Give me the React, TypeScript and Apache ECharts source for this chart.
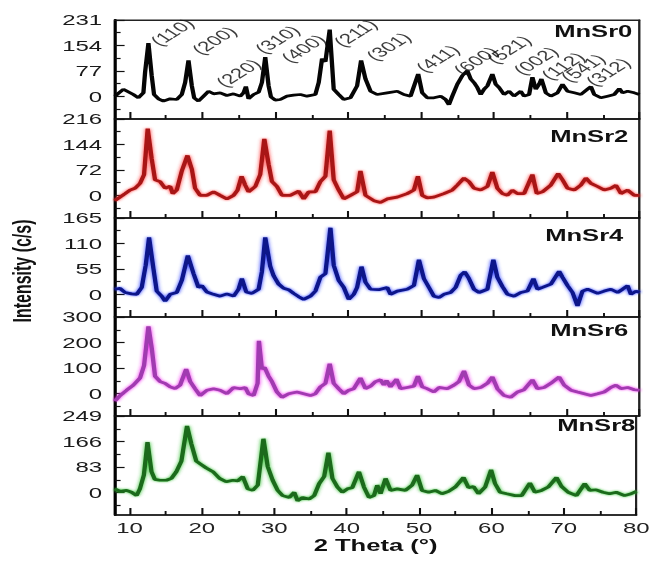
import React, { useEffect, useRef } from "react";
import * as echarts from "echarts";

// ---- data -------------------------------------------------------------
const samples = ["MnSr0", "MnSr2", "MnSr4", "MnSr6", "MnSr8"];
const yMax = [231, 216, 165, 300, 249];
const yMin = [-68, -64, -49, -88, -73];
const xTicks = [10, 20, 30, 40, 50, 60, 70, 80];
const xMinorTicks = [15, 25, 35, 45, 55, 65, 75];

// 2θ (deg), intensity (c/s)
const mnSr0: [number, number][] = [
  [8.0, 1], [9.15, 22], [10.52, 6], [11.21, -4], [11.9, 11], [12.13, 73], [12.59, 161], [13.04, 63],
  [13.36, 6], [13.96, -7], [14.65, -14], [15.57, -7], [16.48, -9], [17.17, 6], [17.63, 42], [18.09, 109],
  [18.55, 32], [18.87, -4], [19.46, -14], [20.15, 1], [20.84, 16], [21.53, 8], [22.44, 11], [23.36, 3],
  [24.28, 8], [25.19, 1], [25.65, 11], [25.97, 30], [26.34, -7], [27.03, 6], [27.72, 13], [28.17, 42],
  [28.63, 119], [29.09, 32], [29.41, -1], [30.01, -11], [30.7, -9], [31.61, 1], [32.53, 4], [33.45, 6],
  [34.36, 1], [35.51, 6], [35.97, 42], [36.43, 114], [36.89, 105], [37.48, 202], [38.03, 22], [38.72, 6],
  [39.41, -9], [40.33, -4], [41.24, 32], [41.79, 109], [42.39, 53], [43.08, 16], [43.99, 6], [45.37, 11],
  [46.75, 16], [47.66, 6], [48.58, 1], [49.63, 68], [50.18, 11], [50.87, -4], [51.79, -4], [52.71, 1],
  [53.39, -9], [53.85, -25], [54.31, 1], [55.0, 37], [55.69, 63], [56.37, 78], [56.83, 53], [57.29, 42],
  [57.75, 27], [58.21, 6], [58.67, 22], [59.13, 32], [59.81, 68], [60.27, 37], [60.73, 27], [61.42, 6],
  [62.11, 16], [62.79, 1], [63.71, 16], [64.17, 1], [64.86, 6], [65.31, 58], [65.77, 22], [66.23, 37],
  [66.55, 53], [67.15, 11], [67.84, 1], [68.75, 11], [69.44, 37], [70.13, 16], [71.05, 11], [71.96, 6],
  [72.88, 22], [73.34, 30], [73.8, 6], [74.71, -4], [75.63, 1], [76.55, 6], [77.24, 24], [77.69, 11],
  [78.38, 16], [79.3, 11], [80.0, 6],
];

const mnSr2: [number, number][] = [
  [8.0, -15], [8.69, -5], [9.38, 5], [10.06, 15], [10.75, 20], [11.44, 34], [11.99, 59], [12.49, 189],
  [13.04, 103], [13.5, 44], [14.19, 39], [14.88, 20], [15.57, 26], [15.93, 5], [16.48, 15], [17.17, 69],
  [17.95, 113], [18.55, 74], [19.0, 20], [19.69, 0], [20.61, 0], [21.53, 10], [22.44, 0], [23.36, -10],
  [24.28, 0], [24.83, 15], [25.38, 54], [25.88, 29], [26.34, 10], [27.26, 25], [27.94, 59], [28.5, 160],
  [29.09, 88], [29.55, 39], [30.24, 25], [30.93, 0], [32.07, 0], [33.22, 12], [33.91, -10], [34.59, 10],
  [35.51, 10], [36.2, 39], [36.89, 54], [37.48, 183], [38.03, 44], [38.72, 15], [39.41, -10], [40.33, 0],
  [41.24, 10], [41.7, 69], [42.39, 0], [43.54, -15], [44.45, -20], [45.37, -10], [46.75, -5], [48.12, 5],
  [49.04, 15], [49.59, 54], [50.18, 0], [50.87, -7], [51.79, -5], [53.16, 5], [54.31, 15], [55.0, 29],
  [55.92, 49], [56.6, 39], [57.29, 20], [58.21, 15], [59.13, 25], [59.81, 66], [60.5, 20], [61.19, 5],
  [61.88, 0], [62.56, 15], [63.25, 5], [64.17, 5], [65.31, 59], [65.91, 5], [66.69, 10], [67.84, 29],
  [68.85, 62], [69.44, 44], [70.13, 20], [71.05, 15], [71.96, 29], [72.65, 49], [73.34, 34], [74.26, 25],
  [75.17, 15], [76.09, 20], [76.78, 29], [77.47, 5], [78.38, 15], [79.3, 0], [80.0, 0],
];

const mnSr4: [number, number][] = [
  [8.0, 11], [8.69, 13], [9.38, 4], [10.29, 1], [10.98, 0], [11.67, 15], [12.22, 63], [12.68, 123],
  [13.27, 56], [13.73, 7], [14.42, -4], [14.88, -15], [15.57, 0], [16.48, 4], [17.17, 30], [18.0, 84],
  [18.78, 45], [19.46, 15], [19.92, 19], [20.61, 5], [21.53, 0], [22.44, -4], [23.36, 1], [24.28, -4],
  [24.96, 11], [25.42, 34], [26.02, 5], [26.8, 2], [27.72, 11], [28.17, 49], [28.63, 123], [29.32, 60],
  [29.78, 40], [30.47, 22], [31.15, 13], [31.84, 10], [32.53, 2], [33.22, -5], [33.91, -11], [34.82, -4],
  [35.51, 7], [36.2, 37], [36.89, 45], [37.58, 144], [38.03, 63], [38.72, 30], [39.41, 15], [40.1, -11],
  [40.78, 0], [41.24, 15], [41.84, 60], [42.39, 26], [43.08, 11], [44.22, 10], [45.37, 15], [45.83, 0],
  [46.75, 7], [48.12, 11], [49.04, 19], [49.73, 75], [50.41, 34], [51.1, 15], [51.79, -4], [52.48, -7],
  [53.16, 0], [54.08, 4], [54.77, 15], [55.46, 41], [56.01, 49], [56.6, 34], [57.29, 11], [57.98, 4],
  [59.13, 11], [59.95, 75], [60.5, 37], [61.19, 17], [61.88, 0], [62.79, -4], [63.71, 4], [64.63, 7],
  [65.45, 34], [66.0, 11], [66.69, 15], [67.84, 22], [68.98, 50], [69.44, 37], [70.13, 19], [70.82, 4],
  [71.5, -25], [72.19, 7], [72.88, 11], [74.26, 2], [75.17, 7], [76.09, 11], [77.01, 4], [77.69, 11],
  [78.38, 19], [78.84, 0], [79.53, 7], [80.0, 4],
];

const mnSr6: [number, number][] = [
  [8.0, -29], [8.69, -8], [9.6, 13], [10.52, 33], [11.44, 61], [11.99, 110], [12.59, 263], [13.04, 179],
  [13.5, 68], [14.19, 47], [14.88, 40], [15.57, 26], [16.25, 19], [16.94, 33], [17.77, 96], [18.32, 47],
  [19.0, 19], [19.69, -8], [20.61, 13], [21.53, 19], [22.44, 13], [23.36, -1], [24.28, 24], [25.19, 19],
  [25.88, 24], [26.34, -1], [27.03, -8], [27.58, 40], [27.76, 207], [28.17, 96], [28.54, 103], [29.09, 68],
  [29.55, 47], [30.24, 6], [30.93, -15], [31.84, -1], [32.99, 6], [33.91, -1], [34.82, -8], [35.51, -1],
  [36.2, 26], [36.89, 40], [37.48, 117], [38.03, 40], [38.72, 19], [39.41, -1], [40.1, 13], [40.78, 19],
  [41.7, 61], [42.39, 19], [43.08, 29], [43.77, 47], [44.45, 54], [44.91, 33], [45.28, 51], [45.83, 26],
  [46.65, 57], [47.2, 19], [48.12, 24], [49.04, 29], [49.59, 68], [50.18, 26], [50.87, 19], [51.79, 6],
  [52.48, 24], [53.62, 19], [54.54, 33], [55.23, 47], [55.92, 89], [56.6, 33], [57.29, 19], [58.21, 24],
  [59.13, 40], [59.81, 65], [60.5, 19], [61.42, -8], [62.33, -15], [63.25, 6], [64.17, 15], [65.31, 54],
  [66.0, 19], [66.92, 24], [67.84, 40], [68.98, 65], [69.67, 33], [70.59, 13], [71.5, 6], [72.42, -1],
  [73.34, -8], [74.26, -1], [75.17, 6], [76.09, 24], [76.78, 33], [77.47, 19], [78.38, 24], [79.3, 15],
  [80.0, 13],
];

const mnSr8: [number, number][] = [
  [8.0, 12], [8.69, 4], [9.6, 7], [10.29, 1], [10.98, -10], [11.44, 12], [11.99, 57], [12.49, 164],
  [13.04, 68], [13.5, 43], [14.19, 40], [15.11, 40], [15.79, 46], [16.48, 68], [17.17, 102], [17.95, 217],
  [18.55, 158], [19.23, 102], [19.92, 91], [20.61, 80], [21.53, 68], [22.44, 46], [23.36, 35], [24.28, 40],
  [24.96, 38], [25.65, 52], [26.34, 12], [27.03, 7], [27.72, 24], [28.5, 175], [29.09, 85], [29.78, 40],
  [30.47, 7], [31.15, -10], [32.07, -16], [32.76, 1], [33.22, -27], [33.91, -16], [34.82, -21], [35.51, -10],
  [36.2, 29], [36.89, 52], [37.48, 130], [38.03, 46], [38.72, 18], [39.41, 1], [40.1, 12], [40.78, 16],
  [41.7, 68], [42.39, 18], [43.08, -16], [43.77, -10], [44.22, 24], [44.68, -4], [45.37, 46], [46.06, 7],
  [46.97, 12], [48.12, 7], [49.04, 24], [49.73, 57], [50.41, 7], [51.33, 1], [52.25, 7], [53.16, -4],
  [54.08, 4], [55.0, 18], [56.14, 49], [56.83, 16], [57.52, 20], [58.21, -4], [59.13, 18], [59.95, 74],
  [60.5, 29], [61.19, 1], [62.11, -4], [63.25, -10], [64.17, -10], [65.31, 31], [66.0, 1], [66.92, 7],
  [67.84, 18], [68.98, 49], [69.67, 20], [70.59, 1], [71.73, -10], [72.88, 29], [73.57, 7], [74.48, 9],
  [75.4, 1], [76.32, -4], [77.24, 1], [78.38, -10], [79.3, -4], [80.0, 4],
];

// Miller indices for the MnSr0 reflections (label anchor in 2θ / c/s)
const hklLabels = ["(110)", "(200)", "(220)", "(310)", "(400)", "(211)", "(301)", "(411)", "(600)", "(521)", "(002)", "(112)", "(541)", "(312)"];
const hklX = [15.84, 21.62, 24.92, 30.28, 33.86, 41.01, 45.55, 52.29, 57.52, 62.06, 65.77, 69.49, 72.24, 75.68];
const hklY = [194, 169, 71, 172, 145, 191, 151, 114, 108, 142, 108, 92, 86, 74];

const patterns = [mnSr0, mnSr2, mnSr4, mnSr6, mnSr8];

// ---- styling / layout --------------------------------------------------
const lineColors = ["#050505", "#a81616", "#0c148a", "#a03ab0", "#1c6a1c"];
const glowColors = ["rgba(0,0,0,0)", "#ff3030", "#2a3cff", "#f020f0", "#30c030"];

const FONT = "'Liberation Sans', Arial, Helvetica, sans-serif";
const STRETCH = 1.6; // the figure is drawn with wide, horizontally stretched lettering
const PAGE_W = 654;
const PAGE_H = 565;
const CHART_W = PAGE_W / STRETCH;
const LEFT = 115 / STRETCH;
const RIGHT = 15 / STRETCH;
const PANEL_TOPS = [20, 119, 218, 317, 416];
const PANEL_H = 99;
const NAME_TOPS = [24, 129, 228, 323, 418];
const NAME_RIGHTS = [22, 26, 31, 26, 19].map((v) => v / STRETCH);

function buildOption(): echarts.EChartsCoreOption {
  const grid: any[] = [];
  const xAxis: any[] = [];
  const yAxis: any[] = [];
  const series: any[] = [];
  const title: any[] = [];
  const frame = { color: "#222", width: 1.2 };

  samples.forEach((name, i) => {
    grid.push({
      left: LEFT,
      right: RIGHT,
      top: PANEL_TOPS[i],
      height: PANEL_H,
      show: true,
      borderColor: "#222",
      borderWidth: 1.2,
      backgroundColor: "transparent",
    });

    const isBottom = i === samples.length - 1;
    const firstX = xAxis.length;
    xAxis.push({
      type: "value",
      gridIndex: i,
      position: "bottom",
      min: 8,
      max: 80,
      axisLine: { show: true, onZero: false, lineStyle: { color: "#111", width: 1.5 } },
      axisTick: { show: true, inside: true, length: 7, customValues: xTicks, lineStyle: { color: "#111", width: 1.3 } },
      axisLabel: {
        show: isBottom,
        customValues: xTicks,
        fontSize: 15,
        fontFamily: FONT,
        color: "#222",
        margin: 5,
      },
      splitLine: { show: false },
      name: isBottom ? "2 Theta (°)" : "",
      nameLocation: "middle",
      nameGap: 23,
      nameTextStyle: { fontSize: 16, fontWeight: "bold", fontFamily: FONT, color: "#111" },
    });
    xAxis.push({
      type: "value",
      gridIndex: i,
      position: "bottom",
      min: 8,
      max: 80,
      axisLine: { show: false, onZero: false },
      axisTick: { show: true, inside: true, length: 4, customValues: xMinorTicks, lineStyle: { color: "#111", width: 1.2 } },
      axisLabel: { show: false },
      splitLine: { show: false },
    });
    if (i === 0) {
      // top frame edge of the stack
      xAxis.push({
        type: "value",
        gridIndex: i,
        position: "top",
        min: 8,
        max: 80,
        axisLine: { show: true, onZero: false, lineStyle: frame },
        axisTick: { show: false },
        axisLabel: { show: false },
        splitLine: { show: false },
      });
    }

    const step = yMax[i] / 3;
    const major = [0, step, 2 * step, yMax[i]];
    const minor = [-step / 2, step / 2, 1.5 * step, 2.5 * step];
    const firstY = yAxis.length;
    yAxis.push({
      type: "value",
      gridIndex: i,
      position: "left",
      min: yMin[i],
      max: yMax[i],
      axisLine: { show: true, onZero: false, lineStyle: { color: "#000", width: 2 } },
      axisTick: { show: true, inside: true, length: 6, customValues: major, lineStyle: { color: "#111", width: 1.2 } },
      axisLabel: {
        customValues: major,
        formatter: (v: number) => String(Math.round(v)),
        fontSize: 15,
        fontFamily: FONT,
        color: "#1a1a1a",
        margin: 8,
      },
      splitLine: { show: false },
    });
    yAxis.push({
      type: "value",
      gridIndex: i,
      position: "left",
      min: yMin[i],
      max: yMax[i],
      axisLine: { show: false, onZero: false },
      axisTick: { show: true, inside: true, length: 3.5, customValues: minor, lineStyle: { color: "#111", width: 1.2 } },
      axisLabel: { show: false },
      splitLine: { show: false },
    });
    // right frame edge
    yAxis.push({
      type: "value",
      gridIndex: i,
      position: "right",
      min: yMin[i],
      max: yMax[i],
      axisLine: { show: true, onZero: false, lineStyle: frame },
      axisTick: { show: false },
      axisLabel: { show: false },
      splitLine: { show: false },
    });

    series.push({
      type: "line",
      name,
      xAxisIndex: firstX,
      yAxisIndex: firstY,
      data: patterns[i],
      showSymbol: false,
      symbol: "none",
      smooth: false,
      clip: true,
      lineStyle: {
        color: lineColors[i],
        width: 2.7,
        shadowBlur: i === 0 ? 0 : 2.5,
        shadowColor: glowColors[i],
      },
      z: 3,
    });

    title.push({
      text: name,
      right: NAME_RIGHTS[i],
      top: NAME_TOPS[i],
      padding: 0,
      textStyle: { fontSize: 16, fontWeight: "bold", fontFamily: FONT, color: "#111" },
    });
  });

  series.push({
    type: "scatter",
    name: "hkl",
    xAxisIndex: 0,
    yAxisIndex: 0,
    symbolSize: 1,
    itemStyle: { color: "rgba(0,0,0,0)" },
    data: hklLabels.map((t, k) => ({ name: t, value: [hklX[k], hklY[k]] })),
    label: {
      show: true,
      position: "inside",
      formatter: "{b}",
      rotate: 45,
      fontSize: 14,
      fontFamily: FONT,
      color: "#0a0a0a",
    },
    silent: true,
    z: 5,
  });

  return {
    animation: false,
    backgroundColor: "#fff",
    title,
    grid,
    xAxis,
    yAxis,
    series,
    graphic: [
      {
        type: "text",
        x: 23 / STRETCH,
        y: 271,
        rotation: Math.PI / 2,
        style: {
          text: "Intensity (c/s)",
          align: "center",
          verticalAlign: "middle",
          fontSize: 16,
          fontWeight: "bold",
          fontFamily: FONT,
          fill: "#111",
        },
      },
    ],
  };
}

export default function App() {
  const ref = useRef<HTMLDivElement>(null);

  useEffect(() => {
    if (!ref.current) return;
    const chart = echarts.init(ref.current, undefined, { renderer: "svg" });
    chart.setOption(buildOption());
    return () => chart.dispose();
  }, []);

  return (
    <div
      style={{
        position: "fixed",
        left: 0,
        top: 0,
        width: PAGE_W,
        height: PAGE_H,
        overflow: "hidden",
        background: "#fff",
      }}
    >
      <div
        ref={ref}
        style={{
          width: CHART_W,
          height: PAGE_H,
          transform: `scaleX(${STRETCH})`,
          transformOrigin: "0 0",
        }}
      />
    </div>
  );
}
